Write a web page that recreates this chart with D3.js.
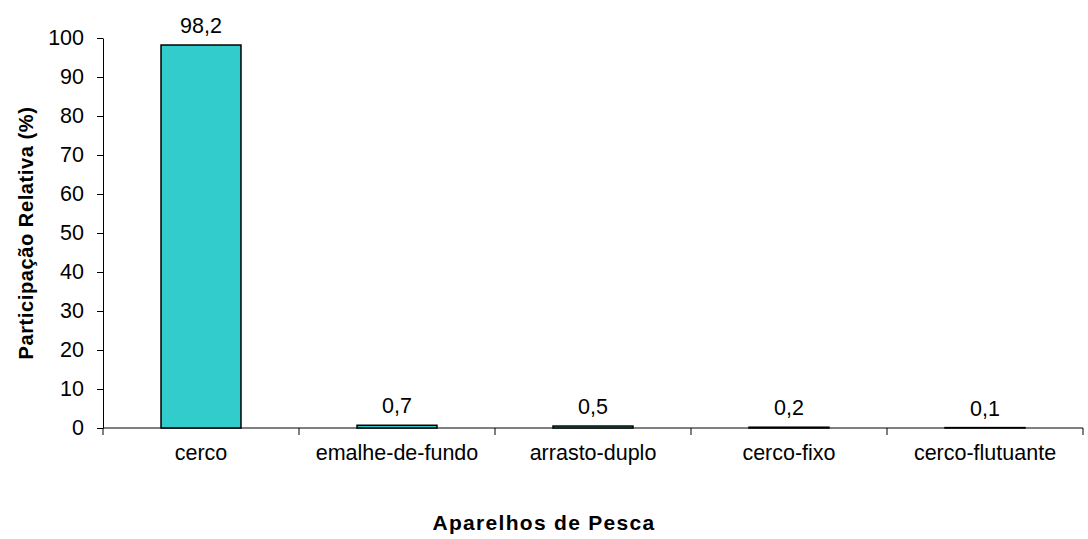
<!DOCTYPE html>
<html lang="pt">
<head>
<meta charset="UTF-8">
<title>Aparelhos de Pesca</title>
<script src="https://d3js.org/d3.v7.min.js"></script>
<style>
  body { margin: 0; background: white; }
  svg { font-family: "Liberation Sans", Arial, sans-serif; }
</style>
</head>
<body>
<script>
// dados
const categories = ["cerco", "emalhe-de-fundo", "arrasto-duplo", "cerco-fixo", "cerco-flutuante"];
const values = [98.2, 0.7, 0.5, 0.2, 0.1];
const yTicks = [0, 10, 20, 30, 40, 50, 60, 70, 80, 90, 100];

const width = 1088, height = 539;
const plotLeft = 103, plotRight = 1083, plotTop = 38, plotBottom = 428;

const svg = d3.select("body").append("svg")
    .attr("width", width)
    .attr("height", height);

const x = d3.scaleBand()
    .domain(categories)
    .range([plotLeft, plotRight])
    .paddingInner(0)
    .paddingOuter(0);

const y = d3.scaleLinear()
    .domain([0, 100])
    .range([plotBottom, plotTop]);

// eixo y
const yAxis = svg.append("g")
    .attr("transform", "translate(" + plotLeft + ",0)")
    .call(d3.axisLeft(y).tickValues(yTicks).tickSize(6).tickSizeOuter(0).tickPadding(13));
yAxis.select(".domain").attr("stroke", "#000");
yAxis.selectAll(".tick line").attr("stroke", "#000");
yAxis.selectAll("text").attr("font-size", 21.5).attr("fill", "#000");

// eixo x: linha e marcas nas divisões entre categorias
svg.append("line")
    .attr("x1", plotLeft).attr("x2", plotRight)
    .attr("y1", plotBottom).attr("y2", plotBottom)
    .attr("stroke", "#000");

const boundaries = categories.map(c => x(c)).concat([x(categories[categories.length - 1]) + x.bandwidth()]);
svg.selectAll(".xtick")
    .data(boundaries)
    .enter().append("line")
    .attr("class", "xtick")
    .attr("x1", d => d).attr("x2", d => d)
    .attr("y1", plotBottom).attr("y2", plotBottom + 7)
    .attr("stroke", "#000");

svg.selectAll(".xlabel")
    .data(categories)
    .enter().append("text")
    .attr("class", "xlabel")
    .attr("x", d => x(d) + x.bandwidth() / 2)
    .attr("y", plotBottom + 32)
    .attr("text-anchor", "middle")
    .attr("font-size", 21.5)
    .text(d => d);

// barras
const barW = x.bandwidth() * 0.408;
svg.selectAll(".bar")
    .data(values)
    .enter().append("rect")
    .attr("class", "bar")
    .attr("x", (d, i) => x(categories[i]) + (x.bandwidth() - barW) / 2)
    .attr("y", d => y(d))
    .attr("width", barW)
    .attr("height", d => y(0) - y(d))
    .attr("fill", "#33CCCC")
    .attr("stroke", "#000")
    .attr("stroke-width", 1.5);

// rótulos de valor
svg.selectAll(".vlabel")
    .data(values)
    .enter().append("text")
    .attr("class", "vlabel")
    .attr("x", (d, i) => x(categories[i]) + x.bandwidth() / 2)
    .attr("y", d => y(d) - 12)
    .attr("text-anchor", "middle")
    .attr("font-size", 21.5)
    .text(d => String(d).replace(".", ","));

// títulos dos eixos
svg.append("text")
    .attr("transform", "translate(33,233) rotate(-90)")
    .attr("text-anchor", "middle")
    .attr("font-size", 20)
    .attr("font-weight", "bold")
    .attr("letter-spacing", 0.6)
    .text("Participação Relativa (%)");

svg.append("text")
    .attr("x", 544)
    .attr("y", 530)
    .attr("text-anchor", "middle")
    .attr("font-size", 21)
    .attr("font-weight", "bold")
    .attr("letter-spacing", 1.3)
    .text("Aparelhos de Pesca");
</script>
</body>
</html>
